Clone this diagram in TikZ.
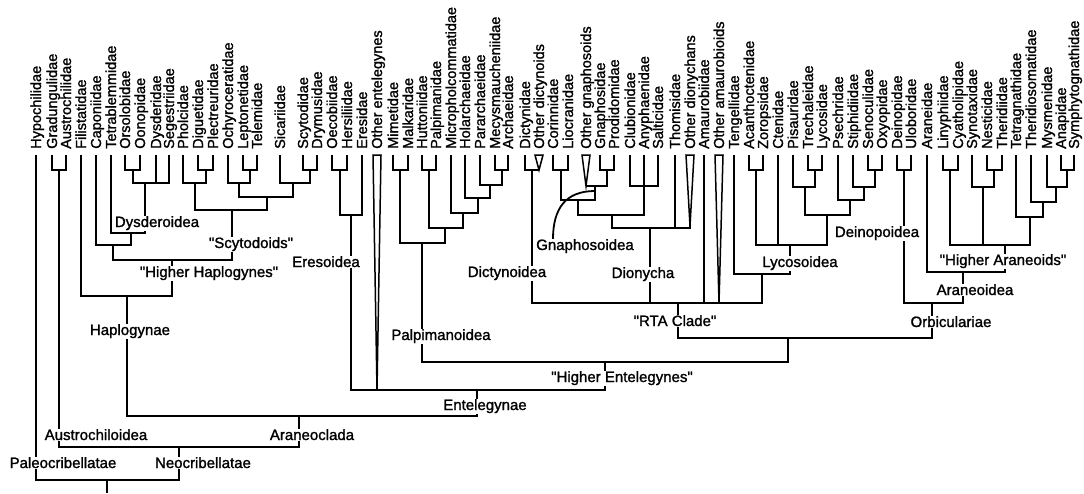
\documentclass[tikz,border=0pt]{standalone}
\usepackage{fontspec}
\setmainfont{Liberation Sans}[Ligatures=TeXOff,FakeBold=1.4]
\begin{document}
\begin{tikzpicture}[x=1pt,y=-1pt,
  br/.style={line width=1.8pt},
  tri/.style={line width=1.5pt,line join=miter},
  tiplab/.style={rotate=90,anchor=base west,inner sep=0pt,font=\fontsize{14.5}{15}\selectfont},
  clab/.style={anchor=base,fill=white,inner sep=0.5pt,font=\fontsize{15}{16}\selectfont}]
\fill[white] (0,0) rectangle (1084,493);
\useasboundingbox (0,0) rectangle (1084,493);
% tips: label + top-of-branch coordinate
\foreach \i/\x/\lab in {1/36/Hypochilidae,2/52/Gradungulidae,3/66/Austrochilidae,4/81/Filistatidae,
 5/96/Caponiidae,6/111/Tetrablemmidae,7/125/Orsolobidae,8/140/Oonopidae,9/156/Dysderidae,
 10/169/Segestriidae,11/183/Pholcidae,12/198/Diguetidae,13/213/Plectreuridae,14/228/Ochyroceratidae,
 15/243/Leptonetidae,16/257/Telemidae,17/280/Sicariidae,18/303/Scytodidae,19/317/Drymusidae,
 20/332/Oecobiidae,21/347/Hersiliidae,22/362/Eresidae,23/377/Other entelegynes,24/393/Mimetidae,
 25/408/Malkaridae,26/422/Huttoniidae,27/436/Palpimanidae,28/451/Micropholcommatidae,
 29/465/Holarchaeidae,30/480/Pararchaeidae,31/495/Mecysmaucheniidae,32/508/Archaeidae,
 33/525/Dictynidae,34/539/Other dictynoids,35/553/Corinnidae,36/568/Liocranidae,
 37/586/Other gnaphosoids,38/600/Gnaphosidae,39/614/Prodidomidae,40/630/Clubionidae,
 41/644/Anyphaenidae,42/658/Salticidae,43/675/Thomisidae,44/690/Other dionychans,
 45/704/Amaurobiidae,46/719/Other amaurobioids,47/734/Tengellidae,48/749/Acanthoctenidae,
 49/763/Zoropsidae,50/778/Ctenidae,51/793/Pisauridae,52/808/Trechaleidae,53/822/Lycosidae,
 54/838/Psechridae,55/853/Stiphidiidae,56/868/Senoculidae,57/882/Oxyopidae,58/897/Deinopidae,
 59/911/Uloboridae,60/927/Araneidae,61/943/Linyphiidae,62/958/Cyatholipidae,63/972/Synotaxidae,
 64/987/Nesticidae,65/1002/Theridiidae,66/1016/Tetragnathidae,67/1031/Theridiosomatidae,
 68/1047/Mysmenidae,69/1061/Anapidae,70/1074/Symphytognathidae}{
  \coordinate (t\i) at (\x,155);
  \node[tiplab] (L\i) at (\x+5,149) {\lab};
}
% collapsed clades (triangles)
\coordinate (a23) at (377,390);
\coordinate (a34) at (539,170);
\coordinate (a37) at (586,186);
\coordinate (a44) at (690,226);
\coordinate (a46) at (719,303);
\draw[tri] (373,155) -- (381,155) -- (a23) -- cycle;
\draw[tri] (535,155) -- (543,155) -- (a34) -- cycle;
\draw[tri] (582,155) -- (590,155) -- (a37) -- cycle;
\draw[tri] (686,155) -- (694,155) -- (a44) -- cycle;
\draw[tri] (715,155) -- (723,155) -- (a46) -- cycle;
% internal nodes
\coordinate (root) at (107,480);
\coordinate (rootEnd) at (107,493);
\coordinate (neo) at (179,447);
\coordinate (austro) at (59,170);
\coordinate (aranc) at (299,416);
\coordinate (haplo) at (127,296);
\coordinate (hh) at (172,260);
\coordinate (capdys) at (113,245);
\coordinate (tetdys) at (131,233);
\coordinate (dysd) at (145,183);
\coordinate (oo) at (133,170);
\coordinate (scyto) at (232,210);
\coordinate (pdp) at (195,183);
\coordinate (dp) at (206,170);
\coordinate (osds) at (267,197);
\coordinate (olt) at (239,183);
\coordinate (lt) at (250,170);
\coordinate (ssd) at (293,183);
\coordinate (sd) at (310,170);
\coordinate (entel) at (477,390);
\coordinate (eres) at (351,215);
\coordinate (oh) at (340,170);
\coordinate (hent) at (605,362);
\coordinate (palp) at (422,243);
\coordinate (mm) at (400,170);
\coordinate (pa) at (445,228);
\coordinate (hp) at (429,170);
\coordinate (pb) at (463,213);
\coordinate (pc) at (478,198);
\coordinate (pd) at (490,185);
\coordinate (ma) at (502,170);
\coordinate (rtaorb) at (788,338);
\coordinate (rta) at (678,303);
\coordinate (dict) at (532,170);
\coordinate (dion) at (650,228);
\coordinate (dda) at (612,215);
\coordinate (ddb) at (578,200);
\coordinate (cl) at (561,170);
\coordinate (gnaph) at (595,186);
\coordinate (gp) at (607,170);
\coordinate (cas) at (644,186);
\coordinate (tl) at (762,274);
\coordinate (lyco) at (790,245);
\coordinate (ac) at (756,170);
\coordinate (pso) at (827,215);
\coordinate (ptl) at (805,187);
\coordinate (tlb) at (815,170);
\coordinate (psso) at (850,200);
\coordinate (sso) at (864,187);
\coordinate (so) at (875,170);
\coordinate (orb) at (932,303);
\coordinate (deino) at (904,170);
\coordinate (aran) at (963,272);
\coordinate (ha) at (1005,245);
\coordinate (lc) at (950,170);
\coordinate (snt) at (983,187);
\coordinate (nt) at (994,170);
\coordinate (tta) at (1030,217);
\coordinate (ttb) at (1043,202);
\coordinate (ttc) at (1056,187);
\coordinate (ttd) at (1067,170);
% branches
\foreach \c/\p in {t1/root,neo/root,austro/neo,aranc/neo,t2/austro,t3/austro,
 haplo/aranc,entel/aranc,t4/haplo,hh/haplo,capdys/hh,scyto/hh,t5/capdys,tetdys/capdys,
 t6/tetdys,dysd/tetdys,oo/dysd,t9/dysd,t10/dysd,t7/oo,t8/oo,
 pdp/scyto,osds/scyto,t11/pdp,dp/pdp,t12/dp,t13/dp,olt/osds,ssd/osds,t14/olt,lt/olt,
 t15/lt,t16/lt,t17/ssd,sd/ssd,t18/sd,t19/sd,
 eres/entel,a23/entel,hent/entel,oh/eres,t22/eres,t20/oh,t21/oh,
 palp/hent,rtaorb/hent,mm/palp,pa/palp,t24/mm,t25/mm,hp/pa,pb/pa,t26/hp,t27/hp,
 t28/pb,pc/pb,t29/pc,pd/pc,t30/pd,ma/pd,t31/ma,t32/ma,
 rta/rtaorb,orb/rtaorb,dict/rta,dion/rta,t45/rta,a46/rta,tl/rta,t33/dict,a34/dict,
 dda/dion,t43/dion,a44/dion,ddb/dda,cas/dda,cl/ddb,gnaph/ddb,t35/cl,t36/cl,
 a37/gnaph,gp/gnaph,t38/gp,t39/gp,t40/cas,t41/cas,t42/cas,
 t47/tl,lyco/tl,ac/lyco,t50/lyco,pso/lyco,t48/ac,t49/ac,ptl/pso,psso/pso,
 t51/ptl,tlb/ptl,t52/tlb,t53/tlb,t54/psso,sso/psso,t55/sso,so/sso,t56/so,t57/so,
 deino/orb,aran/orb,t58/deino,t59/deino,t60/aran,ha/aran,lc/ha,snt/ha,tta/ha,
 t61/lc,t62/lc,t63/snt,nt/snt,t64/nt,t65/nt,t66/tta,ttb/tta,t67/ttb,ttc/ttb,
 t68/ttc,ttd/ttc,t69/ttd,t70/ttd}{
  \draw[br] (\c) |- (\p);
}
\draw[br] (root) -- (rootEnd);
% Gnaphosoidea pointer
\coordinate (gcs) at (553,239);
\coordinate (gce) at (595,191);
\draw[br] (gcs) .. controls (553,208) and (566,191) .. (gce);
% clade labels
\node[clab] (Lpaleo) at (63,468) {Paleocribellatae};
\node[clab] (Lneo) at (203,468) {Neocribellatae};
\node[clab] (Laustro) at (96,440) {Austrochiloidea};
\node[clab] (Laranc) at (312,440) {Araneoclada};
\node[clab] (Lhaplo) at (130,335) {Haplogynae};
\node[clab] (Lentel) at (485,410) {Entelegynae};
\node[clab] (Lhent) at (622,382) {"Higher Entelegynes"};
\node[clab] (Lpalp) at (441,340) {Palpimanoidea};
\node[clab] (Lrta) at (675,326) {"RTA Clade"};
\node[clab] (Lorb) at (951,327) {Orbiculariae};
\node[clab] (Laran) at (975,295) {Araneoidea};
\node[clab] (Lha) at (1003,265) {"Higher Araneoids"};
\node[clab] (Llyco) at (800,267) {Lycosoidea};
\node[clab] (Ldeino) at (877,237) {Deinopoidea};
\node[clab] (Ldion) at (643,278) {Dionycha};
\node[clab] (Ldict) at (507,277) {Dictynoidea};
\node[clab] (Lgnaph) at (585,250) {Gnaphosoidea};
\node[clab] (Leres) at (326,267) {Eresoidea};
\node[clab] (Lhh) at (209,277) {"Higher Haplogynes"};
\node[clab] (Lscyto) at (251,248) {"Scytodoids"};
\node[clab] (Ldysd) at (157,227) {Dysderoidea};
\end{tikzpicture}
\end{document}
